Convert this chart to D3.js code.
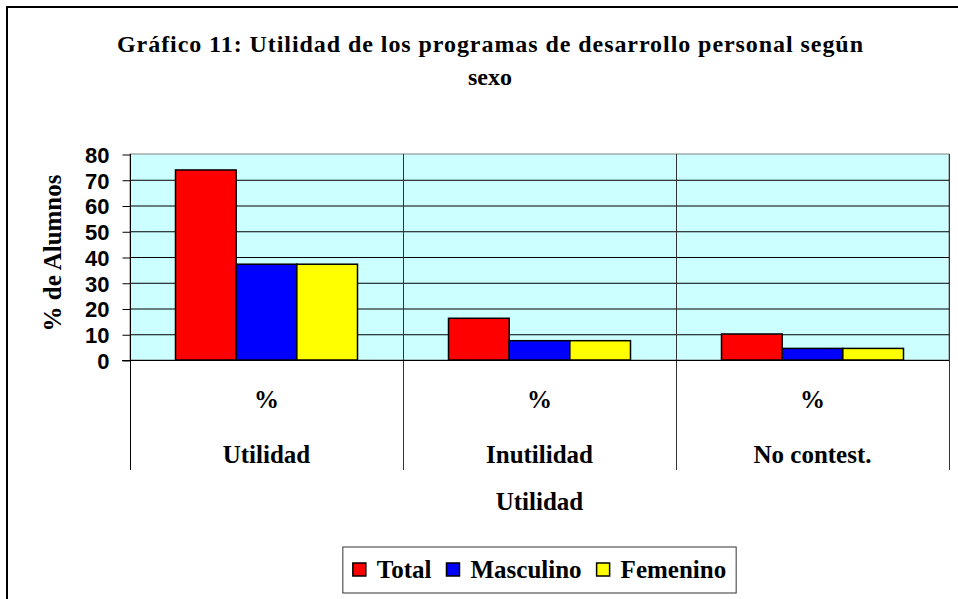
<!DOCTYPE html>
<meta charset="utf-8">
<style>
body { margin: 0; background: #fff; }
svg { display: block; }
.ytick text { font-family: "Liberation Sans", Arial, sans-serif; font-weight: bold; font-size: 22px; }
.grid line { stroke: #000; stroke-width: 1px; }
.bar { stroke: #000; stroke-width: 1.5px; }
</style>
<body>
<div id="main"></div>
<script src="https://d3js.org/d3.v7.min.js"></script>
<script>
// chart values
var categories = ["Utilidad", "Inutilidad", "No contest."];
var series = ["Total", "Masculino", "Femenino"];
var colors = ["#FF0000", "#0000FF", "#FFFF00"];
var totalValues = [73.8, 16.2, 10.1];
var masculinoValues = [37.2, 7.5, 4.5];
var femeninoValues = [37.2, 7.5, 4.5];
var yTicks = [0, 10, 20, 30, 40, 50, 60, 70, 80];
var titleLines = ["Gráfico 11: Utilidad de los programas de desarrollo personal según", "sexo"];

var seriesValues = [totalValues, masculinoValues, femeninoValues];
var serifFont = "'Liberation Serif', 'Times New Roman', Times, serif";

var svg = d3.select("#main").append("svg")
	.attr("width", 958)
	.attr("height", 599);

// every serif label goes through here
function serifText(sel, size) {
	return sel.style("font-family", serifFont)
		.style("font-weight", "bold")
		.style("font-size", size + "px")
		.attr("fill", "#000");
}

// chart area border (right and bottom edges fall outside the picture)
svg.append("rect")
	.attr("x", 7).attr("y", 7)
	.attr("width", 1000).attr("height", 1000)
	.attr("fill", "#fff")
	.attr("stroke", "#000")
	.attr("stroke-width", 2);

var plotLeft = 130, plotRight = 949, plotTop = 154, plotBottom = 360, labelBottom = 470;

var x0 = d3.scaleBand()
	.domain(categories)
	.range([plotLeft, plotRight]);

var x1 = d3.scaleBand()
	.domain(series)
	.range([0, x0.bandwidth()])
	.paddingOuter(0.75);

var y = d3.scaleLinear()
	.domain([0, 80])
	.range([plotBottom, plotTop]);

// plot background
svg.append("rect")
	.attr("x", plotLeft).attr("y", plotTop)
	.attr("width", plotRight - plotLeft).attr("height", plotBottom - plotTop)
	.attr("fill", "#CCFFFF")
	.attr("stroke", "#808080")
	.attr("stroke-width", 1);

// horizontal gridlines
svg.append("g").attr("class", "grid")
	.selectAll("line")
	.data(yTicks.slice(1, -1))
	.enter().append("line")
	.attr("x1", plotLeft).attr("x2", plotRight)
	.attr("y1", function(d) { return y(d) + 0.5; })
	.attr("y2", function(d) { return y(d) + 0.5; });

// category separators, running down through the label area
var bounds = categories.map(function(c) { return x0(c); }).concat([plotRight]);
svg.append("g")
	.selectAll("line")
	.data(bounds)
	.enter().append("line")
	.attr("x1", function(d) { return Math.round(d) + 0.5; })
	.attr("x2", function(d) { return Math.round(d) + 0.5; })
	.attr("y1", plotTop)
	.attr("y2", labelBottom)
	.attr("stroke", function(d, i) { return i == 0 ? "#000" : "#333"; })
	.attr("stroke-width", 1);

// bars
var groups = svg.append("g")
	.selectAll("g")
	.data(categories)
	.enter().append("g")
	.attr("transform", function(d) { return "translate(" + x0(d) + ",0)"; });

groups.selectAll("rect")
	.data(function(d, ci) {
		return series.map(function(s, si) { return {s: s, i: si, v: seriesValues[si][ci]}; });
	})
	.enter().append("rect")
	.attr("class", "bar")
	.attr("x", function(d) { return x1(d.s); })
	.attr("width", x1.bandwidth())
	.attr("y", function(d) { return y(d.v); })
	.attr("height", function(d) { return y(0) - y(d.v); })
	.attr("fill", function(d) { return colors[d.i]; });

// zero line
svg.append("line")
	.attr("x1", plotLeft - 8).attr("x2", plotRight)
	.attr("y1", plotBottom + 0.5).attr("y2", plotBottom + 0.5)
	.attr("stroke", "#000");

// y axis
var yAxis = svg.append("g")
	.attr("class", "ytick")
	.attr("transform", "translate(" + (plotLeft + 0.5) + ",0.5)")
	.call(d3.axisLeft(y).tickValues(yTicks).tickSize(8).tickPadding(13));
yAxis.select(".domain").remove();
yAxis.selectAll(".tick line").attr("stroke", "#000");
yAxis.selectAll("text").attr("fill", "#000").attr("dy", "0.36em");

// y axis title
serifText(svg.append("text"), 25)
	.attr("transform", "translate(61,253) rotate(-90)")
	.attr("text-anchor", "middle")
	.text("% de Alumnos");

// category labels (two levels)
var catLabels = svg.append("g")
	.selectAll("g")
	.data(categories)
	.enter().append("g")
	.attr("transform", function(d) { return "translate(" + (x0(d) + x0.bandwidth() / 2) + ",0)"; });

serifText(catLabels.append("text"), 25)
	.attr("y", 408)
	.attr("text-anchor", "middle")
	.text("%");

serifText(catLabels.append("text"), 25)
	.attr("y", 463)
	.attr("text-anchor", "middle")
	.text(function(d) { return d; });

// x axis title
serifText(svg.append("text"), 25)
	.attr("x", (plotLeft + plotRight) / 2)
	.attr("y", 510)
	.attr("text-anchor", "middle")
	.text("Utilidad");

// title
serifText(svg.append("g").selectAll("text")
	.data(titleLines)
	.enter().append("text"), 24)
	.attr("x", 490)
	.attr("y", function(d, i) { return 52 + i * 33; })
	.attr("text-anchor", "middle")
	.attr("textLength", function(d, i) { return i == 0 ? 746 : null; })
	.attr("lengthAdjust", "spacing")
	.text(function(d) { return d; });

// legend
var legend = svg.append("g");
var legendBox = legend.append("rect")
	.attr("fill", "#fff")
	.attr("stroke", "#333")
	.attr("stroke-width", 1);

var lx = 0;
var items = legend.selectAll("g")
	.data(series)
	.enter().append("g");

items.each(function(d, i) {
	var it = d3.select(this);
	it.append("rect")
		.attr("x", lx).attr("y", -15)
		.attr("width", 13).attr("height", 13)
		.attr("fill", colors[i])
		.attr("stroke", "#000")
		.attr("stroke-width", 1.5);
	var t = serifText(it.append("text"), 25)
		.attr("x", lx + 24)
		.attr("y", 0)
		.text(d);
	lx += 24 + t.node().getComputedTextLength() + 15;
});

var legendW = lx - 15 + 20;
var legendLeft = (plotLeft + plotRight) / 2 - legendW / 2;
legendBox
	.attr("x", -10).attr("y", -31)
	.attr("width", legendW).attr("height", 46);
legend.attr("transform", "translate(" + (legendLeft + 10) + ",578)");
</script>
</body>
